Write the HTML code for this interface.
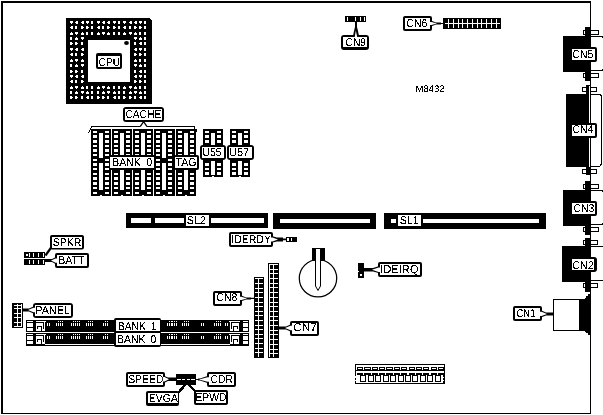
<!DOCTYPE html>
<html lang="en">
<head>
<meta charset="utf-8">
<title>M8432 motherboard layout</title>
<style>
html,body{margin:0;padding:0;background:#fff;}
body{width:603px;height:415px;overflow:hidden;}
svg{display:block;}
svg text{font-family:"Liberation Sans",sans-serif;fill:#000;}
</style>
</head>
<body>
<svg width="603" height="415" viewBox="0 0 603 415" shape-rendering="crispEdges" text-rendering="geometricPrecision">
<defs><filter id="bw" x="-5%" y="-20%" width="110%" height="140%" color-interpolation-filters="sRGB"><feComponentTransfer><feFuncA type="discrete" tableValues="0 0 1 1 1"/></feComponentTransfer></filter></defs>
<rect x="0" y="0" width="603" height="415" fill="#fff"/>
<rect x="1" y="1" width="590" height="2" fill="#000"/>
<rect x="1" y="1" width="2" height="413" fill="#000"/>
<rect x="1" y="413" width="590" height="1" fill="#000"/>
<rect x="590" y="1" width="1" height="413" fill="#000"/>
<polygon points="66,18 149,18 152,21 152,104 66,104" fill="#000"/>
<rect x="70" y="21" width="3" height="2" fill="#fff"/>
<rect x="71" y="23" width="1" height="1" fill="#fff"/>
<rect x="76" y="21" width="2" height="3" fill="#fff"/>
<rect x="75" y="22" width="1" height="1" fill="#fff"/>
<rect x="82" y="21" width="2" height="3" fill="#fff"/>
<rect x="81" y="22" width="1" height="1" fill="#fff"/>
<rect x="86" y="21" width="3" height="2" fill="#fff"/>
<rect x="87" y="23" width="1" height="1" fill="#fff"/>
<rect x="91" y="21" width="2" height="3" fill="#fff"/>
<rect x="97" y="21" width="3" height="2" fill="#fff"/>
<rect x="98" y="23" width="1" height="1" fill="#fff"/>
<rect x="103" y="21" width="2" height="3" fill="#fff"/>
<rect x="102" y="22" width="1" height="1" fill="#fff"/>
<rect x="108" y="21" width="2" height="3" fill="#fff"/>
<rect x="107" y="22" width="1" height="1" fill="#fff"/>
<rect x="113" y="21" width="3" height="2" fill="#fff"/>
<rect x="114" y="23" width="1" height="1" fill="#fff"/>
<rect x="118" y="21" width="2" height="3" fill="#fff"/>
<rect x="123" y="21" width="3" height="2" fill="#fff"/>
<rect x="124" y="23" width="1" height="1" fill="#fff"/>
<rect x="130" y="21" width="2" height="3" fill="#fff"/>
<rect x="129" y="22" width="1" height="1" fill="#fff"/>
<rect x="135" y="21" width="2" height="3" fill="#fff"/>
<rect x="134" y="22" width="1" height="1" fill="#fff"/>
<rect x="139" y="21" width="3" height="2" fill="#fff"/>
<rect x="140" y="23" width="1" height="1" fill="#fff"/>
<rect x="144" y="21" width="2" height="3" fill="#fff"/>
<rect x="71" y="26" width="2" height="3" fill="#fff"/>
<rect x="70" y="27" width="1" height="1" fill="#fff"/>
<rect x="75" y="26" width="2" height="3" fill="#fff"/>
<rect x="81" y="26" width="2" height="3" fill="#fff"/>
<rect x="83" y="27" width="1" height="1" fill="#fff"/>
<rect x="86" y="26" width="2" height="3" fill="#fff"/>
<rect x="88" y="27" width="1" height="1" fill="#fff"/>
<rect x="91" y="26" width="2" height="3" fill="#fff"/>
<rect x="98" y="26" width="2" height="3" fill="#fff"/>
<rect x="97" y="27" width="1" height="1" fill="#fff"/>
<rect x="102" y="26" width="2" height="3" fill="#fff"/>
<rect x="107" y="26" width="2" height="3" fill="#fff"/>
<rect x="109" y="27" width="1" height="1" fill="#fff"/>
<rect x="113" y="26" width="2" height="3" fill="#fff"/>
<rect x="115" y="27" width="1" height="1" fill="#fff"/>
<rect x="118" y="26" width="2" height="3" fill="#fff"/>
<rect x="124" y="26" width="2" height="3" fill="#fff"/>
<rect x="123" y="27" width="1" height="1" fill="#fff"/>
<rect x="129" y="26" width="2" height="3" fill="#fff"/>
<rect x="134" y="26" width="2" height="3" fill="#fff"/>
<rect x="136" y="27" width="1" height="1" fill="#fff"/>
<rect x="139" y="26" width="2" height="3" fill="#fff"/>
<rect x="141" y="27" width="1" height="1" fill="#fff"/>
<rect x="144" y="26" width="2" height="3" fill="#fff"/>
<rect x="70" y="33" width="3" height="2" fill="#fff"/>
<rect x="71" y="32" width="1" height="1" fill="#fff"/>
<rect x="75" y="32" width="3" height="2" fill="#fff"/>
<rect x="76" y="34" width="1" height="1" fill="#fff"/>
<rect x="81" y="33" width="3" height="2" fill="#fff"/>
<rect x="82" y="32" width="1" height="1" fill="#fff"/>
<rect x="86" y="32" width="2" height="3" fill="#fff"/>
<rect x="91" y="32" width="2" height="3" fill="#fff"/>
<rect x="97" y="33" width="3" height="2" fill="#fff"/>
<rect x="98" y="32" width="1" height="1" fill="#fff"/>
<rect x="102" y="32" width="3" height="2" fill="#fff"/>
<rect x="103" y="34" width="1" height="1" fill="#fff"/>
<rect x="107" y="33" width="3" height="2" fill="#fff"/>
<rect x="108" y="32" width="1" height="1" fill="#fff"/>
<rect x="113" y="32" width="2" height="3" fill="#fff"/>
<rect x="118" y="32" width="2" height="3" fill="#fff"/>
<rect x="123" y="33" width="3" height="2" fill="#fff"/>
<rect x="124" y="32" width="1" height="1" fill="#fff"/>
<rect x="129" y="32" width="3" height="2" fill="#fff"/>
<rect x="130" y="34" width="1" height="1" fill="#fff"/>
<rect x="134" y="33" width="3" height="2" fill="#fff"/>
<rect x="135" y="32" width="1" height="1" fill="#fff"/>
<rect x="139" y="32" width="2" height="3" fill="#fff"/>
<rect x="144" y="32" width="2" height="3" fill="#fff"/>
<rect x="70" y="37" width="2" height="3" fill="#fff"/>
<rect x="75" y="38" width="3" height="2" fill="#fff"/>
<rect x="76" y="37" width="1" height="1" fill="#fff"/>
<rect x="81" y="37" width="3" height="2" fill="#fff"/>
<rect x="82" y="39" width="1" height="1" fill="#fff"/>
<rect x="134" y="37" width="3" height="2" fill="#fff"/>
<rect x="135" y="39" width="1" height="1" fill="#fff"/>
<rect x="139" y="38" width="3" height="2" fill="#fff"/>
<rect x="140" y="37" width="1" height="1" fill="#fff"/>
<rect x="144" y="37" width="2" height="3" fill="#fff"/>
<rect x="70" y="42" width="2" height="3" fill="#fff"/>
<rect x="72" y="43" width="1" height="1" fill="#fff"/>
<rect x="75" y="42" width="2" height="3" fill="#fff"/>
<rect x="77" y="43" width="1" height="1" fill="#fff"/>
<rect x="81" y="42" width="2" height="3" fill="#fff"/>
<rect x="134" y="42" width="2" height="3" fill="#fff"/>
<rect x="140" y="42" width="2" height="3" fill="#fff"/>
<rect x="139" y="43" width="1" height="1" fill="#fff"/>
<rect x="144" y="42" width="2" height="3" fill="#fff"/>
<rect x="70" y="48" width="3" height="2" fill="#fff"/>
<rect x="71" y="50" width="1" height="1" fill="#fff"/>
<rect x="76" y="48" width="2" height="3" fill="#fff"/>
<rect x="75" y="49" width="1" height="1" fill="#fff"/>
<rect x="82" y="48" width="2" height="3" fill="#fff"/>
<rect x="81" y="49" width="1" height="1" fill="#fff"/>
<rect x="135" y="48" width="2" height="3" fill="#fff"/>
<rect x="134" y="49" width="1" height="1" fill="#fff"/>
<rect x="139" y="48" width="3" height="2" fill="#fff"/>
<rect x="140" y="50" width="1" height="1" fill="#fff"/>
<rect x="144" y="48" width="2" height="3" fill="#fff"/>
<rect x="71" y="53" width="2" height="3" fill="#fff"/>
<rect x="70" y="54" width="1" height="1" fill="#fff"/>
<rect x="75" y="53" width="2" height="3" fill="#fff"/>
<rect x="81" y="53" width="2" height="3" fill="#fff"/>
<rect x="83" y="54" width="1" height="1" fill="#fff"/>
<rect x="134" y="53" width="2" height="3" fill="#fff"/>
<rect x="136" y="54" width="1" height="1" fill="#fff"/>
<rect x="139" y="53" width="2" height="3" fill="#fff"/>
<rect x="141" y="54" width="1" height="1" fill="#fff"/>
<rect x="144" y="53" width="2" height="3" fill="#fff"/>
<rect x="70" y="60" width="3" height="2" fill="#fff"/>
<rect x="71" y="59" width="1" height="1" fill="#fff"/>
<rect x="75" y="59" width="3" height="2" fill="#fff"/>
<rect x="76" y="61" width="1" height="1" fill="#fff"/>
<rect x="81" y="60" width="3" height="2" fill="#fff"/>
<rect x="82" y="59" width="1" height="1" fill="#fff"/>
<rect x="134" y="60" width="3" height="2" fill="#fff"/>
<rect x="135" y="59" width="1" height="1" fill="#fff"/>
<rect x="139" y="59" width="2" height="3" fill="#fff"/>
<rect x="144" y="59" width="2" height="3" fill="#fff"/>
<rect x="70" y="64" width="2" height="3" fill="#fff"/>
<rect x="75" y="65" width="3" height="2" fill="#fff"/>
<rect x="76" y="64" width="1" height="1" fill="#fff"/>
<rect x="81" y="64" width="3" height="2" fill="#fff"/>
<rect x="82" y="66" width="1" height="1" fill="#fff"/>
<rect x="134" y="64" width="3" height="2" fill="#fff"/>
<rect x="135" y="66" width="1" height="1" fill="#fff"/>
<rect x="139" y="65" width="3" height="2" fill="#fff"/>
<rect x="140" y="64" width="1" height="1" fill="#fff"/>
<rect x="144" y="64" width="2" height="3" fill="#fff"/>
<rect x="70" y="70" width="2" height="3" fill="#fff"/>
<rect x="72" y="71" width="1" height="1" fill="#fff"/>
<rect x="75" y="70" width="2" height="3" fill="#fff"/>
<rect x="77" y="71" width="1" height="1" fill="#fff"/>
<rect x="81" y="70" width="2" height="3" fill="#fff"/>
<rect x="134" y="70" width="2" height="3" fill="#fff"/>
<rect x="140" y="70" width="2" height="3" fill="#fff"/>
<rect x="139" y="71" width="1" height="1" fill="#fff"/>
<rect x="144" y="70" width="2" height="3" fill="#fff"/>
<rect x="70" y="75" width="3" height="2" fill="#fff"/>
<rect x="71" y="77" width="1" height="1" fill="#fff"/>
<rect x="76" y="75" width="2" height="3" fill="#fff"/>
<rect x="75" y="76" width="1" height="1" fill="#fff"/>
<rect x="82" y="75" width="2" height="3" fill="#fff"/>
<rect x="81" y="76" width="1" height="1" fill="#fff"/>
<rect x="135" y="75" width="2" height="3" fill="#fff"/>
<rect x="134" y="76" width="1" height="1" fill="#fff"/>
<rect x="139" y="75" width="3" height="2" fill="#fff"/>
<rect x="140" y="77" width="1" height="1" fill="#fff"/>
<rect x="144" y="75" width="2" height="3" fill="#fff"/>
<rect x="71" y="80" width="2" height="3" fill="#fff"/>
<rect x="70" y="81" width="1" height="1" fill="#fff"/>
<rect x="75" y="80" width="2" height="3" fill="#fff"/>
<rect x="81" y="80" width="2" height="3" fill="#fff"/>
<rect x="83" y="81" width="1" height="1" fill="#fff"/>
<rect x="134" y="80" width="2" height="3" fill="#fff"/>
<rect x="136" y="81" width="1" height="1" fill="#fff"/>
<rect x="139" y="80" width="2" height="3" fill="#fff"/>
<rect x="141" y="81" width="1" height="1" fill="#fff"/>
<rect x="144" y="80" width="2" height="3" fill="#fff"/>
<rect x="70" y="87" width="3" height="2" fill="#fff"/>
<rect x="71" y="86" width="1" height="1" fill="#fff"/>
<rect x="75" y="86" width="3" height="2" fill="#fff"/>
<rect x="76" y="88" width="1" height="1" fill="#fff"/>
<rect x="81" y="87" width="3" height="2" fill="#fff"/>
<rect x="82" y="86" width="1" height="1" fill="#fff"/>
<rect x="86" y="86" width="2" height="3" fill="#fff"/>
<rect x="91" y="86" width="2" height="3" fill="#fff"/>
<rect x="97" y="87" width="3" height="2" fill="#fff"/>
<rect x="98" y="86" width="1" height="1" fill="#fff"/>
<rect x="102" y="86" width="3" height="2" fill="#fff"/>
<rect x="103" y="88" width="1" height="1" fill="#fff"/>
<rect x="107" y="87" width="3" height="2" fill="#fff"/>
<rect x="108" y="86" width="1" height="1" fill="#fff"/>
<rect x="113" y="86" width="2" height="3" fill="#fff"/>
<rect x="118" y="86" width="2" height="3" fill="#fff"/>
<rect x="123" y="87" width="3" height="2" fill="#fff"/>
<rect x="124" y="86" width="1" height="1" fill="#fff"/>
<rect x="129" y="86" width="3" height="2" fill="#fff"/>
<rect x="130" y="88" width="1" height="1" fill="#fff"/>
<rect x="134" y="87" width="3" height="2" fill="#fff"/>
<rect x="135" y="86" width="1" height="1" fill="#fff"/>
<rect x="139" y="86" width="2" height="3" fill="#fff"/>
<rect x="144" y="86" width="2" height="3" fill="#fff"/>
<rect x="70" y="91" width="2" height="3" fill="#fff"/>
<rect x="75" y="92" width="3" height="2" fill="#fff"/>
<rect x="76" y="91" width="1" height="1" fill="#fff"/>
<rect x="81" y="91" width="3" height="2" fill="#fff"/>
<rect x="82" y="93" width="1" height="1" fill="#fff"/>
<rect x="86" y="92" width="3" height="2" fill="#fff"/>
<rect x="87" y="91" width="1" height="1" fill="#fff"/>
<rect x="91" y="91" width="2" height="3" fill="#fff"/>
<rect x="97" y="91" width="2" height="3" fill="#fff"/>
<rect x="102" y="92" width="3" height="2" fill="#fff"/>
<rect x="103" y="91" width="1" height="1" fill="#fff"/>
<rect x="107" y="91" width="3" height="2" fill="#fff"/>
<rect x="108" y="93" width="1" height="1" fill="#fff"/>
<rect x="113" y="92" width="3" height="2" fill="#fff"/>
<rect x="114" y="91" width="1" height="1" fill="#fff"/>
<rect x="118" y="91" width="2" height="3" fill="#fff"/>
<rect x="123" y="91" width="2" height="3" fill="#fff"/>
<rect x="129" y="92" width="3" height="2" fill="#fff"/>
<rect x="130" y="91" width="1" height="1" fill="#fff"/>
<rect x="134" y="91" width="3" height="2" fill="#fff"/>
<rect x="135" y="93" width="1" height="1" fill="#fff"/>
<rect x="139" y="92" width="3" height="2" fill="#fff"/>
<rect x="140" y="91" width="1" height="1" fill="#fff"/>
<rect x="144" y="91" width="2" height="3" fill="#fff"/>
<rect x="70" y="96" width="2" height="3" fill="#fff"/>
<rect x="72" y="97" width="1" height="1" fill="#fff"/>
<rect x="75" y="96" width="2" height="3" fill="#fff"/>
<rect x="77" y="97" width="1" height="1" fill="#fff"/>
<rect x="81" y="96" width="2" height="3" fill="#fff"/>
<rect x="87" y="96" width="2" height="3" fill="#fff"/>
<rect x="86" y="97" width="1" height="1" fill="#fff"/>
<rect x="91" y="96" width="2" height="3" fill="#fff"/>
<rect x="97" y="96" width="2" height="3" fill="#fff"/>
<rect x="99" y="97" width="1" height="1" fill="#fff"/>
<rect x="102" y="96" width="2" height="3" fill="#fff"/>
<rect x="104" y="97" width="1" height="1" fill="#fff"/>
<rect x="107" y="96" width="2" height="3" fill="#fff"/>
<rect x="114" y="96" width="2" height="3" fill="#fff"/>
<rect x="113" y="97" width="1" height="1" fill="#fff"/>
<rect x="118" y="96" width="2" height="3" fill="#fff"/>
<rect x="123" y="96" width="2" height="3" fill="#fff"/>
<rect x="125" y="97" width="1" height="1" fill="#fff"/>
<rect x="129" y="96" width="2" height="3" fill="#fff"/>
<rect x="131" y="97" width="1" height="1" fill="#fff"/>
<rect x="134" y="96" width="2" height="3" fill="#fff"/>
<rect x="140" y="96" width="2" height="3" fill="#fff"/>
<rect x="139" y="97" width="1" height="1" fill="#fff"/>
<rect x="144" y="96" width="2" height="3" fill="#fff"/>
<rect x="88" y="40" width="42" height="42" fill="#fff"/>
<ellipse cx="126.5" cy="43" rx="2.4" ry="2" fill="#000" shape-rendering="geometricPrecision"/>
<rect x="96" y="53" width="26" height="16" rx="2" ry="2" fill="#000" shape-rendering="geometricPrecision"/>
<rect x="98" y="56" width="22" height="11" fill="#fff"/>
<text x="98.525" y="66" font-size="11.3" textLength="21.625" lengthAdjust="spacingAndGlyphs" filter="url(#bw)">CPU</text>
<rect x="91" y="126" width="49" height="1" fill="#000"/>
<rect x="147" y="126" width="48" height="1" fill="#000"/>
<rect x="91" y="127" width="1" height="1" fill="#000"/>
<rect x="90" y="128" width="1" height="2" fill="#000"/>
<rect x="89" y="130" width="1" height="2" fill="#000"/>
<rect x="88" y="132" width="1" height="1" fill="#000"/>
<rect x="194" y="127" width="1" height="2" fill="#000"/>
<rect x="195" y="129" width="2" height="3" fill="#000"/>
<polyline points="140.2,126.6 143.6,121.6 147,126.6" fill="none" stroke="#000" stroke-width="1.3" shape-rendering="geometricPrecision"/>
<rect x="91" y="129" width="20" height="67" fill="#000"/>
<rect x="93" y="131" width="4" height="2" fill="#fff"/>
<rect x="105" y="131" width="4" height="2" fill="#fff"/>
<rect x="93" y="135" width="4" height="3" fill="#fff"/>
<rect x="105" y="135" width="4" height="3" fill="#fff"/>
<rect x="93" y="140" width="4" height="3" fill="#fff"/>
<rect x="105" y="140" width="4" height="3" fill="#fff"/>
<rect x="93" y="145" width="4" height="2" fill="#fff"/>
<rect x="105" y="145" width="4" height="2" fill="#fff"/>
<rect x="93" y="149" width="4" height="3" fill="#fff"/>
<rect x="105" y="149" width="4" height="3" fill="#fff"/>
<rect x="93" y="154" width="4" height="2" fill="#fff"/>
<rect x="105" y="154" width="4" height="2" fill="#fff"/>
<rect x="93" y="159" width="4" height="2" fill="#fff"/>
<rect x="105" y="159" width="4" height="2" fill="#fff"/>
<rect x="93" y="163" width="4" height="3" fill="#fff"/>
<rect x="105" y="163" width="4" height="3" fill="#fff"/>
<rect x="93" y="168" width="4" height="2" fill="#fff"/>
<rect x="105" y="168" width="4" height="2" fill="#fff"/>
<rect x="93" y="173" width="4" height="2" fill="#fff"/>
<rect x="105" y="173" width="4" height="2" fill="#fff"/>
<rect x="93" y="177" width="4" height="3" fill="#fff"/>
<rect x="105" y="177" width="4" height="3" fill="#fff"/>
<rect x="93" y="182" width="4" height="3" fill="#fff"/>
<rect x="105" y="182" width="4" height="3" fill="#fff"/>
<rect x="93" y="187" width="4" height="2" fill="#fff"/>
<rect x="105" y="187" width="4" height="2" fill="#fff"/>
<rect x="93" y="192" width="4" height="2" fill="#fff"/>
<rect x="105" y="192" width="4" height="2" fill="#fff"/>
<rect x="99" y="133" width="4" height="25" fill="#fff"/>
<rect x="99" y="163" width="4" height="27" fill="#fff"/>
<polygon points="99.5,196 101,194 102.5,196" fill="#fff"/>
<rect x="112" y="129" width="20" height="67" fill="#000"/>
<rect x="114" y="131" width="4" height="2" fill="#fff"/>
<rect x="126" y="131" width="4" height="2" fill="#fff"/>
<rect x="114" y="135" width="4" height="3" fill="#fff"/>
<rect x="126" y="135" width="4" height="3" fill="#fff"/>
<rect x="114" y="140" width="4" height="3" fill="#fff"/>
<rect x="126" y="140" width="4" height="3" fill="#fff"/>
<rect x="114" y="145" width="4" height="2" fill="#fff"/>
<rect x="126" y="145" width="4" height="2" fill="#fff"/>
<rect x="114" y="149" width="4" height="3" fill="#fff"/>
<rect x="126" y="149" width="4" height="3" fill="#fff"/>
<rect x="114" y="154" width="4" height="2" fill="#fff"/>
<rect x="126" y="154" width="4" height="2" fill="#fff"/>
<rect x="114" y="159" width="4" height="2" fill="#fff"/>
<rect x="126" y="159" width="4" height="2" fill="#fff"/>
<rect x="114" y="163" width="4" height="3" fill="#fff"/>
<rect x="126" y="163" width="4" height="3" fill="#fff"/>
<rect x="114" y="168" width="4" height="2" fill="#fff"/>
<rect x="126" y="168" width="4" height="2" fill="#fff"/>
<rect x="114" y="173" width="4" height="2" fill="#fff"/>
<rect x="126" y="173" width="4" height="2" fill="#fff"/>
<rect x="114" y="177" width="4" height="3" fill="#fff"/>
<rect x="126" y="177" width="4" height="3" fill="#fff"/>
<rect x="114" y="182" width="4" height="3" fill="#fff"/>
<rect x="126" y="182" width="4" height="3" fill="#fff"/>
<rect x="114" y="187" width="4" height="2" fill="#fff"/>
<rect x="126" y="187" width="4" height="2" fill="#fff"/>
<rect x="114" y="192" width="4" height="2" fill="#fff"/>
<rect x="126" y="192" width="4" height="2" fill="#fff"/>
<rect x="120" y="133" width="4" height="25" fill="#fff"/>
<rect x="120" y="163" width="4" height="27" fill="#fff"/>
<polygon points="120.5,196 122,194 123.5,196" fill="#fff"/>
<rect x="133" y="129" width="20" height="67" fill="#000"/>
<rect x="135" y="131" width="4" height="2" fill="#fff"/>
<rect x="147" y="131" width="4" height="2" fill="#fff"/>
<rect x="135" y="135" width="4" height="3" fill="#fff"/>
<rect x="147" y="135" width="4" height="3" fill="#fff"/>
<rect x="135" y="140" width="4" height="3" fill="#fff"/>
<rect x="147" y="140" width="4" height="3" fill="#fff"/>
<rect x="135" y="145" width="4" height="2" fill="#fff"/>
<rect x="147" y="145" width="4" height="2" fill="#fff"/>
<rect x="135" y="149" width="4" height="3" fill="#fff"/>
<rect x="147" y="149" width="4" height="3" fill="#fff"/>
<rect x="135" y="154" width="4" height="2" fill="#fff"/>
<rect x="147" y="154" width="4" height="2" fill="#fff"/>
<rect x="135" y="159" width="4" height="2" fill="#fff"/>
<rect x="147" y="159" width="4" height="2" fill="#fff"/>
<rect x="135" y="163" width="4" height="3" fill="#fff"/>
<rect x="147" y="163" width="4" height="3" fill="#fff"/>
<rect x="135" y="168" width="4" height="2" fill="#fff"/>
<rect x="147" y="168" width="4" height="2" fill="#fff"/>
<rect x="135" y="173" width="4" height="2" fill="#fff"/>
<rect x="147" y="173" width="4" height="2" fill="#fff"/>
<rect x="135" y="177" width="4" height="3" fill="#fff"/>
<rect x="147" y="177" width="4" height="3" fill="#fff"/>
<rect x="135" y="182" width="4" height="3" fill="#fff"/>
<rect x="147" y="182" width="4" height="3" fill="#fff"/>
<rect x="135" y="187" width="4" height="2" fill="#fff"/>
<rect x="147" y="187" width="4" height="2" fill="#fff"/>
<rect x="135" y="192" width="4" height="2" fill="#fff"/>
<rect x="147" y="192" width="4" height="2" fill="#fff"/>
<rect x="141" y="133" width="4" height="25" fill="#fff"/>
<rect x="141" y="163" width="4" height="27" fill="#fff"/>
<polygon points="141.5,196 143,194 144.5,196" fill="#fff"/>
<rect x="154" y="129" width="21" height="67" fill="#000"/>
<rect x="156" y="131" width="4" height="2" fill="#fff"/>
<rect x="168" y="131" width="4" height="2" fill="#fff"/>
<rect x="156" y="135" width="4" height="3" fill="#fff"/>
<rect x="168" y="135" width="4" height="3" fill="#fff"/>
<rect x="156" y="140" width="4" height="3" fill="#fff"/>
<rect x="168" y="140" width="4" height="3" fill="#fff"/>
<rect x="156" y="145" width="4" height="2" fill="#fff"/>
<rect x="168" y="145" width="4" height="2" fill="#fff"/>
<rect x="156" y="149" width="4" height="3" fill="#fff"/>
<rect x="168" y="149" width="4" height="3" fill="#fff"/>
<rect x="156" y="154" width="4" height="2" fill="#fff"/>
<rect x="168" y="154" width="4" height="2" fill="#fff"/>
<rect x="156" y="159" width="4" height="2" fill="#fff"/>
<rect x="168" y="159" width="4" height="2" fill="#fff"/>
<rect x="156" y="163" width="4" height="3" fill="#fff"/>
<rect x="168" y="163" width="4" height="3" fill="#fff"/>
<rect x="156" y="168" width="4" height="2" fill="#fff"/>
<rect x="168" y="168" width="4" height="2" fill="#fff"/>
<rect x="156" y="173" width="4" height="2" fill="#fff"/>
<rect x="168" y="173" width="4" height="2" fill="#fff"/>
<rect x="156" y="177" width="4" height="3" fill="#fff"/>
<rect x="168" y="177" width="4" height="3" fill="#fff"/>
<rect x="156" y="182" width="4" height="3" fill="#fff"/>
<rect x="168" y="182" width="4" height="3" fill="#fff"/>
<rect x="156" y="187" width="4" height="2" fill="#fff"/>
<rect x="168" y="187" width="4" height="2" fill="#fff"/>
<rect x="156" y="192" width="4" height="2" fill="#fff"/>
<rect x="168" y="192" width="4" height="2" fill="#fff"/>
<rect x="162" y="133" width="4" height="25" fill="#fff"/>
<rect x="162" y="163" width="4" height="27" fill="#fff"/>
<polygon points="162.5,196 164,194 165.5,196" fill="#fff"/>
<rect x="176" y="129" width="20" height="67" fill="#000"/>
<rect x="178" y="131" width="4" height="2" fill="#fff"/>
<rect x="190" y="131" width="4" height="2" fill="#fff"/>
<rect x="178" y="135" width="4" height="3" fill="#fff"/>
<rect x="190" y="135" width="4" height="3" fill="#fff"/>
<rect x="178" y="140" width="4" height="3" fill="#fff"/>
<rect x="190" y="140" width="4" height="3" fill="#fff"/>
<rect x="178" y="145" width="4" height="2" fill="#fff"/>
<rect x="190" y="145" width="4" height="2" fill="#fff"/>
<rect x="178" y="149" width="4" height="3" fill="#fff"/>
<rect x="190" y="149" width="4" height="3" fill="#fff"/>
<rect x="178" y="154" width="4" height="2" fill="#fff"/>
<rect x="190" y="154" width="4" height="2" fill="#fff"/>
<rect x="178" y="159" width="4" height="2" fill="#fff"/>
<rect x="190" y="159" width="4" height="2" fill="#fff"/>
<rect x="178" y="163" width="4" height="3" fill="#fff"/>
<rect x="190" y="163" width="4" height="3" fill="#fff"/>
<rect x="178" y="168" width="4" height="2" fill="#fff"/>
<rect x="190" y="168" width="4" height="2" fill="#fff"/>
<rect x="178" y="173" width="4" height="2" fill="#fff"/>
<rect x="190" y="173" width="4" height="2" fill="#fff"/>
<rect x="178" y="177" width="4" height="3" fill="#fff"/>
<rect x="190" y="177" width="4" height="3" fill="#fff"/>
<rect x="178" y="182" width="4" height="3" fill="#fff"/>
<rect x="190" y="182" width="4" height="3" fill="#fff"/>
<rect x="178" y="187" width="4" height="2" fill="#fff"/>
<rect x="190" y="187" width="4" height="2" fill="#fff"/>
<rect x="178" y="192" width="4" height="2" fill="#fff"/>
<rect x="190" y="192" width="4" height="2" fill="#fff"/>
<rect x="184" y="133" width="4" height="25" fill="#fff"/>
<rect x="184" y="163" width="4" height="27" fill="#fff"/>
<polygon points="184.5,196 186,194 187.5,196" fill="#fff"/>
<rect x="203" y="129" width="20" height="48" fill="#000"/>
<rect x="205" y="131" width="4" height="2" fill="#fff"/>
<rect x="217" y="131" width="4" height="2" fill="#fff"/>
<rect x="205" y="135" width="4" height="3" fill="#fff"/>
<rect x="217" y="135" width="4" height="3" fill="#fff"/>
<rect x="205" y="140" width="4" height="3" fill="#fff"/>
<rect x="217" y="140" width="4" height="3" fill="#fff"/>
<rect x="205" y="163" width="4" height="3" fill="#fff"/>
<rect x="217" y="163" width="4" height="3" fill="#fff"/>
<rect x="205" y="168" width="4" height="2" fill="#fff"/>
<rect x="217" y="168" width="4" height="2" fill="#fff"/>
<rect x="205" y="172" width="4" height="3" fill="#fff"/>
<rect x="217" y="172" width="4" height="3" fill="#fff"/>
<rect x="211" y="133" width="4" height="17" fill="#fff"/>
<rect x="211" y="161" width="4" height="14" fill="#fff"/>
<polygon points="211.5,177 213,175 214.5,177" fill="#fff"/>
<rect x="230" y="129" width="20" height="48" fill="#000"/>
<rect x="232" y="131" width="4" height="2" fill="#fff"/>
<rect x="244" y="131" width="4" height="2" fill="#fff"/>
<rect x="232" y="135" width="4" height="3" fill="#fff"/>
<rect x="244" y="135" width="4" height="3" fill="#fff"/>
<rect x="232" y="140" width="4" height="3" fill="#fff"/>
<rect x="244" y="140" width="4" height="3" fill="#fff"/>
<rect x="232" y="163" width="4" height="3" fill="#fff"/>
<rect x="244" y="163" width="4" height="3" fill="#fff"/>
<rect x="232" y="168" width="4" height="2" fill="#fff"/>
<rect x="244" y="168" width="4" height="2" fill="#fff"/>
<rect x="232" y="172" width="4" height="3" fill="#fff"/>
<rect x="244" y="172" width="4" height="3" fill="#fff"/>
<rect x="238" y="133" width="4" height="17" fill="#fff"/>
<rect x="238" y="161" width="4" height="14" fill="#fff"/>
<polygon points="238.5,177 240,175 241.5,177" fill="#fff"/>
<rect x="123" y="107" width="41" height="15" rx="3" ry="3" fill="#000" shape-rendering="geometricPrecision"/>
<rect x="125" y="109" width="37" height="11" fill="#fff"/>
<text x="125.4" y="118" font-size="11.3" textLength="35.825" lengthAdjust="spacingAndGlyphs" filter="url(#bw)">CACHE</text>
<rect x="109" y="155" width="46" height="15" rx="1" ry="1" fill="#000" shape-rendering="geometricPrecision"/>
<rect x="110" y="157" width="44" height="11" fill="#fff"/>
<text x="112.1" y="166" font-size="11.3" word-spacing="2.5" textLength="39.975" lengthAdjust="spacingAndGlyphs" filter="url(#bw)">BANK 0</text>
<rect x="174" y="155" width="25" height="15" rx="2" ry="2" fill="#000" shape-rendering="geometricPrecision"/>
<rect x="175" y="157" width="22" height="11" fill="#fff"/>
<text x="175.525" y="166" font-size="11.3" textLength="21" lengthAdjust="spacingAndGlyphs" filter="url(#bw)">TAG</text>
<rect x="200" y="145" width="26" height="15" rx="3" ry="3" fill="#000" shape-rendering="geometricPrecision"/>
<rect x="202" y="147" width="22" height="11" fill="#fff"/>
<text x="202.575" y="156" font-size="11.3" textLength="18.775" lengthAdjust="spacingAndGlyphs" filter="url(#bw)">U55</text>
<rect x="227" y="145" width="27" height="15" rx="3" ry="3" fill="#000" shape-rendering="geometricPrecision"/>
<rect x="229" y="147" width="23" height="11" fill="#fff"/>
<text x="229.075" y="156" font-size="11.3" textLength="20.1" lengthAdjust="spacingAndGlyphs" filter="url(#bw)">U57</text>
<rect x="345" y="16" width="21" height="6" fill="#000"/>
<rect x="347" y="17" width="1" height="4" fill="#fff"/>
<rect x="355" y="17" width="1" height="4" fill="#fff"/>
<rect x="360" y="17" width="1" height="4" fill="#fff"/>
<rect x="364" y="17" width="1" height="4" fill="#fff"/>
<polygon points="355,22 357,22 357,27 358,31 359,36 353,36 354,31 355,27" fill="#000" shape-rendering="geometricPrecision"/>
<rect x="341" y="35" width="28" height="15" rx="3" ry="3" fill="#000" shape-rendering="geometricPrecision"/>
<rect x="343" y="37" width="24" height="10" fill="#fff"/>
<text x="345.575" y="46" font-size="11.3" textLength="20.325" lengthAdjust="spacingAndGlyphs" filter="url(#bw)">CN9</text>
<polygon points="354.7,37.5 355.8,30.5 357.3,37.5" fill="#fff" shape-rendering="geometricPrecision"/>
<rect x="443" y="18" width="58" height="11" fill="#000"/>
<rect x="445" y="23" width="55" height="1" fill="#fff"/>
<rect x="448" y="19" width="1" height="9" fill="#fff"/>
<rect x="453" y="19" width="1" height="9" fill="#fff"/>
<rect x="458" y="19" width="1" height="9" fill="#fff"/>
<rect x="462" y="19" width="1" height="9" fill="#fff"/>
<rect x="467" y="19" width="1" height="9" fill="#fff"/>
<rect x="472" y="19" width="1" height="9" fill="#fff"/>
<rect x="477" y="19" width="1" height="9" fill="#fff"/>
<rect x="481" y="19" width="1" height="9" fill="#fff"/>
<rect x="486" y="19" width="1" height="9" fill="#fff"/>
<rect x="491" y="19" width="1" height="9" fill="#fff"/>
<rect x="496" y="19" width="1" height="9" fill="#fff"/>
<polygon points="431.5,20.7 436,22.5 441,22.5 441,22.9 443.5,22.9 443.5,24.1 441,24.1 441,24.5 436,24.5 431.5,26.3" fill="#000" shape-rendering="geometricPrecision"/>
<rect x="403" y="16" width="29" height="15" rx="2" ry="2" fill="#000" shape-rendering="geometricPrecision"/>
<rect x="405" y="18" width="25" height="10.5" fill="#fff"/>
<text x="406.275" y="27" font-size="11.3" textLength="21.225" lengthAdjust="spacingAndGlyphs" filter="url(#bw)">CN6</text>
<polygon points="429.8,21.9 431.5,21.9 437,23.5 431.5,25.1 429.8,25.1" fill="#fff" shape-rendering="geometricPrecision"/>
<rect x="583" y="30" width="16" height="5" fill="#000"/>
<rect x="584" y="31" width="14" height="3" fill="#fff"/>
<rect x="585" y="27" width="6" height="9" fill="#000"/>
<rect x="563" y="36" width="28" height="36" fill="#000"/>
<rect x="591" y="36" width="12" height="1" fill="#000"/>
<rect x="602" y="37" width="1" height="1" fill="#000"/>
<rect x="591" y="70" width="12" height="1" fill="#000"/>
<rect x="602" y="69" width="1" height="1" fill="#000"/>
<rect x="583" y="73" width="16" height="5" fill="#000"/>
<rect x="584" y="74" width="14" height="3" fill="#fff"/>
<rect x="585" y="72" width="6" height="9" fill="#000"/>
<rect x="570" y="47" width="27" height="15" rx="2" ry="2" fill="#000" shape-rendering="geometricPrecision"/>
<rect x="572" y="49" width="23" height="11" fill="#fff"/>
<text x="572.15" y="58" font-size="11.3" textLength="21.15" lengthAdjust="spacingAndGlyphs" filter="url(#bw)">CN5</text>
<rect x="582" y="87" width="15" height="5" fill="#000"/>
<rect x="583" y="88" width="13" height="3" fill="#fff"/>
<rect x="586" y="85" width="5" height="9" fill="#000"/>
<rect x="589" y="86" width="1" height="8" fill="#fff"/>
<rect x="566" y="94" width="23" height="73" fill="#000"/>
<rect x="591" y="94" width="10" height="1" fill="#000"/>
<rect x="600" y="95" width="1" height="1" fill="#000"/>
<rect x="601" y="95" width="1" height="70" fill="#000"/>
<rect x="600" y="164" width="1" height="2" fill="#000"/>
<rect x="591" y="166" width="9" height="1" fill="#000"/>
<rect x="590" y="94" width="1" height="73" fill="#000"/>
<rect x="582" y="169" width="15" height="5" fill="#000"/>
<rect x="583" y="170" width="13" height="3" fill="#fff"/>
<rect x="586" y="167" width="5" height="8" fill="#000"/>
<rect x="570" y="123" width="27" height="15" rx="2" ry="2" fill="#000" shape-rendering="geometricPrecision"/>
<rect x="572" y="125" width="23" height="11" fill="#fff"/>
<text x="572.45" y="133" font-size="11.3" textLength="20.775" lengthAdjust="spacingAndGlyphs" filter="url(#bw)">CN4</text>
<rect x="583" y="184" width="16" height="5" fill="#000"/>
<rect x="584" y="185" width="14" height="3" fill="#fff"/>
<rect x="585" y="181" width="6" height="9" fill="#000"/>
<rect x="563" y="190" width="28" height="36" fill="#000"/>
<rect x="591" y="190" width="12" height="1" fill="#000"/>
<rect x="602" y="191" width="1" height="1" fill="#000"/>
<rect x="591" y="224" width="12" height="1" fill="#000"/>
<rect x="602" y="223" width="1" height="1" fill="#000"/>
<rect x="583" y="227" width="16" height="5" fill="#000"/>
<rect x="584" y="228" width="14" height="3" fill="#fff"/>
<rect x="585" y="226" width="6" height="9" fill="#000"/>
<rect x="570" y="201" width="27" height="15" rx="2" ry="2" fill="#000" shape-rendering="geometricPrecision"/>
<rect x="572" y="203" width="23" height="11" fill="#fff"/>
<text x="573.525" y="212" font-size="11.3" textLength="20.775" lengthAdjust="spacingAndGlyphs" filter="url(#bw)">CN3</text>
<rect x="583" y="240" width="15" height="5" fill="#000"/>
<rect x="584" y="241" width="13" height="3" fill="#fff"/>
<rect x="585" y="238" width="6" height="8" fill="#000"/>
<rect x="562" y="246" width="29" height="36" fill="#000"/>
<rect x="590" y="246" width="13" height="1" fill="#000"/>
<rect x="590" y="280" width="13" height="1" fill="#000"/>
<rect x="583" y="283" width="15" height="5" fill="#000"/>
<rect x="584" y="284" width="13" height="3" fill="#fff"/>
<rect x="585" y="282" width="6" height="10" fill="#000"/>
<rect x="570" y="257" width="27" height="15" rx="3" ry="3" fill="#000" shape-rendering="geometricPrecision"/>
<rect x="572" y="259" width="22" height="11" fill="#fff"/>
<text x="572.275" y="269" font-size="11.3" textLength="21.65" lengthAdjust="spacingAndGlyphs" filter="url(#bw)">CN2</text>
<rect x="553" y="299" width="27" height="32" fill="#000"/>
<rect x="554" y="300" width="25" height="30" fill="#fff"/>
<rect x="579" y="299" width="12" height="32" fill="#000"/>
<rect x="588" y="294" width="3" height="2" fill="#000"/>
<rect x="586" y="296" width="5" height="2" fill="#000"/>
<rect x="585" y="298" width="6" height="1" fill="#000"/>
<rect x="585" y="331" width="6" height="1" fill="#000"/>
<rect x="586" y="332" width="5" height="1" fill="#000"/>
<rect x="588" y="333" width="3" height="2" fill="#000"/>
<polygon points="541.5,310.5 546,312.4 553,312.4 553,315.4 546,315.4 541.5,317.3" fill="#000" shape-rendering="geometricPrecision"/>
<rect x="513" y="306" width="29" height="15" rx="2" ry="2" fill="#000" shape-rendering="geometricPrecision"/>
<rect x="515" y="308" width="25" height="10.5" fill="#fff"/>
<text x="516.4" y="317" font-size="11.3" textLength="19.225" lengthAdjust="spacingAndGlyphs" filter="url(#bw)">CN1</text>
<polygon points="539.8,311.7 541.5,311.7 547,313.9 541.5,316.1 539.8,316.1" fill="#fff" shape-rendering="geometricPrecision"/>
<rect x="126" y="213" width="142" height="15" fill="#000"/>
<rect x="131" y="218" width="20" height="5" fill="#fff"/>
<rect x="155" y="218" width="29" height="5" fill="#fff"/>
<rect x="211" y="218" width="53" height="5" fill="#fff"/>
<rect x="186" y="215" width="23" height="11" rx="0" ry="0" fill="#000" shape-rendering="geometricPrecision"/>
<rect x="186" y="215" width="23" height="11" fill="#fff"/>
<text x="186.725" y="224" font-size="11.3" textLength="19.15" lengthAdjust="spacingAndGlyphs" filter="url(#bw)">SL2</text>
<rect x="273" y="213" width="103" height="16" fill="#000"/>
<rect x="280" y="219" width="90" height="4" fill="#fff"/>
<rect x="384" y="213" width="162" height="16" fill="#000"/>
<rect x="391" y="219" width="5" height="4" fill="#fff"/>
<rect x="423" y="219" width="116" height="4" fill="#fff"/>
<rect x="398" y="215" width="23" height="11" rx="0" ry="0" fill="#000" shape-rendering="geometricPrecision"/>
<rect x="398" y="215" width="23" height="11" fill="#fff"/>
<text x="399.7" y="224" font-size="11.3" textLength="19.1" lengthAdjust="spacingAndGlyphs" filter="url(#bw)">SL1</text>
<rect x="286" y="237" width="11" height="5" fill="#000"/>
<rect x="287" y="238" width="1.5" height="3" fill="#fff"/>
<rect x="290.5" y="238" width="1.8" height="3" fill="#fff"/>
<polygon points="272.5,236.2 277,237.4 283,237.4 283,238.6 286,238.6 286,240.2 283,240.2 283,241.4 277,241.4 272.5,242.6" fill="#000" shape-rendering="geometricPrecision"/>
<rect x="229" y="232" width="44" height="15" rx="2" ry="2" fill="#000" shape-rendering="geometricPrecision"/>
<rect x="231" y="234" width="40" height="10.5" fill="#fff"/>
<text x="231.275" y="243" font-size="11.3" textLength="39.7" lengthAdjust="spacingAndGlyphs" filter="url(#bw)">IDERDY</text>
<polygon points="270.8,237.4 272.5,237.4 278,239.4 272.5,241.4 270.8,241.4" fill="#fff" shape-rendering="geometricPrecision"/>
<rect x="24" y="252" width="21" height="6" fill="#000"/>
<rect x="26" y="254" width="2" height="2" fill="#fff"/>
<rect x="29" y="253" width="1.2" height="4" fill="#fff"/>
<rect x="33" y="253" width="1.2" height="4" fill="#fff"/>
<rect x="38" y="253" width="1.2" height="4" fill="#fff"/>
<rect x="43" y="253" width="1.2" height="4" fill="#fff"/>
<rect x="24" y="259" width="21" height="6" fill="#000"/>
<rect x="29" y="260" width="1.2" height="4" fill="#fff"/>
<rect x="33" y="260" width="1.2" height="4" fill="#fff"/>
<rect x="38" y="260" width="1.2" height="4" fill="#fff"/>
<rect x="43" y="260" width="1.2" height="4" fill="#fff"/>
<polyline points="51.5,247 45.5,255.5" fill="none" stroke="#000" stroke-width="2.2" shape-rendering="geometricPrecision"/>
<polygon points="55.5,257.2 52,259.1 45,259.1 45,262.1 52,262.1 55.5,264" fill="#000" shape-rendering="geometricPrecision"/>
<rect x="50" y="235" width="34" height="14.5" rx="2" ry="2" fill="#000" shape-rendering="geometricPrecision"/>
<rect x="52" y="237" width="29.5" height="10.5" fill="#fff"/>
<text x="52.65" y="246" font-size="11.3" textLength="28.65" lengthAdjust="spacingAndGlyphs" filter="url(#bw)">SPKR</text>
<rect x="55" y="253" width="34" height="15" rx="2" ry="2" fill="#000" shape-rendering="geometricPrecision"/>
<rect x="57" y="255" width="30" height="10.5" fill="#fff"/>
<text x="58.275" y="264" font-size="11.3" textLength="26.325" lengthAdjust="spacingAndGlyphs" filter="url(#bw)">BATT</text>
<polygon points="57.2,258.4 55.5,258.4 51,260.6 55.5,262.8 57.2,262.8" fill="#fff" shape-rendering="geometricPrecision"/>
<rect x="12" y="303" width="11" height="25" fill="#000"/>
<rect x="17" y="304" width="1" height="23" fill="#fff"/>
<rect x="21" y="304" width="1" height="23" fill="#fff"/>
<rect x="14" y="305" width="8" height="1" fill="#fff"/>
<rect x="14" y="308" width="8" height="1" fill="#fff"/>
<rect x="14" y="313" width="8" height="1" fill="#fff"/>
<rect x="14" y="317" width="8" height="1" fill="#fff"/>
<rect x="14" y="322" width="8" height="1" fill="#fff"/>
<rect x="14" y="326" width="8" height="1" fill="#fff"/>
<polygon points="33.5,306.6 29,308.5 23,308.5 23,311.5 29,311.5 33.5,313.4" fill="#000" shape-rendering="geometricPrecision"/>
<rect x="33" y="303" width="40" height="15" rx="3" ry="3" fill="#000" shape-rendering="geometricPrecision"/>
<rect x="35" y="305" width="36" height="11" fill="#fff"/>
<text x="35.4" y="314" font-size="11.3" textLength="34.375" lengthAdjust="spacingAndGlyphs" filter="url(#bw)">PANEL</text>
<polygon points="35.2,307.8 33.5,307.8 28,310 33.5,312.2 35.2,312.2" fill="#fff" shape-rendering="geometricPrecision"/>
<rect x="26" y="320" width="223" height="12" fill="#000"/>
<rect x="27" y="321" width="6" height="1" fill="#fff"/>
<rect x="27" y="323" width="6" height="4" fill="#fff"/>
<rect x="27" y="328" width="6" height="3" fill="#fff"/>
<rect x="36" y="321" width="10" height="1" fill="#fff"/>
<rect x="44" y="322" width="1" height="9" fill="#fff"/>
<rect x="36" y="323" width="7" height="8" fill="#fff"/>
<rect x="43" y="329" width="1" height="2" fill="#fff"/>
<rect x="37" y="326" width="5" height="1" fill="#000"/>
<rect x="37" y="327" width="1" height="2" fill="#000"/>
<rect x="41" y="327" width="1" height="4" fill="#000"/>
<rect x="243" y="321" width="5" height="1" fill="#fff"/>
<rect x="243" y="323" width="5" height="4" fill="#fff"/>
<rect x="243" y="328" width="5" height="3" fill="#fff"/>
<rect x="229" y="321" width="11" height="1" fill="#fff"/>
<rect x="230" y="322" width="1" height="9" fill="#fff"/>
<rect x="232" y="323" width="7" height="8" fill="#fff"/>
<rect x="231" y="329" width="1" height="2" fill="#fff"/>
<rect x="233" y="326" width="5" height="1" fill="#000"/>
<rect x="237" y="327" width="1" height="2" fill="#000"/>
<rect x="233" y="327" width="1" height="4" fill="#000"/>
<rect x="47" y="323" width="1" height="3" fill="#fff"/>
<rect x="49" y="323" width="1" height="3" fill="#fff"/>
<rect x="56" y="323" width="1" height="3" fill="#fff"/>
<rect x="58" y="323" width="1" height="3" fill="#fff"/>
<rect x="58" y="321.3" width="1" height="0.9" fill="#fff"/>
<rect x="60" y="323" width="1" height="3" fill="#fff"/>
<rect x="60" y="321.3" width="1" height="0.9" fill="#fff"/>
<rect x="62" y="323" width="1" height="3" fill="#fff"/>
<rect x="62" y="321.3" width="1" height="0.9" fill="#fff"/>
<rect x="71" y="323" width="1" height="3" fill="#fff"/>
<rect x="73" y="323" width="1" height="3" fill="#fff"/>
<rect x="73" y="321.3" width="1" height="0.9" fill="#fff"/>
<rect x="75" y="323" width="1" height="3" fill="#fff"/>
<rect x="75" y="321.3" width="1" height="0.9" fill="#fff"/>
<rect x="77" y="323" width="1" height="3" fill="#fff"/>
<rect x="77" y="321.3" width="1" height="0.9" fill="#fff"/>
<rect x="79" y="323" width="1" height="3" fill="#fff"/>
<rect x="79" y="321.3" width="1" height="0.9" fill="#fff"/>
<rect x="86" y="323" width="1" height="3" fill="#fff"/>
<rect x="88" y="323" width="1" height="3" fill="#fff"/>
<rect x="88" y="321.3" width="1" height="0.9" fill="#fff"/>
<rect x="90" y="323" width="1" height="3" fill="#fff"/>
<rect x="90" y="321.3" width="1" height="0.9" fill="#fff"/>
<rect x="92" y="323" width="1" height="3" fill="#fff"/>
<rect x="92" y="321.3" width="1" height="0.9" fill="#fff"/>
<rect x="103" y="323" width="1" height="3" fill="#fff"/>
<rect x="105" y="323" width="1" height="3" fill="#fff"/>
<rect x="105" y="321.3" width="1" height="0.9" fill="#fff"/>
<rect x="107" y="323" width="1" height="3" fill="#fff"/>
<rect x="107" y="321.3" width="1" height="0.9" fill="#fff"/>
<rect x="167" y="323" width="1" height="3" fill="#fff"/>
<rect x="169" y="323" width="1" height="3" fill="#fff"/>
<rect x="169" y="321.3" width="1" height="0.9" fill="#fff"/>
<rect x="171" y="323" width="1" height="3" fill="#fff"/>
<rect x="171" y="321.3" width="1" height="0.9" fill="#fff"/>
<rect x="172" y="323" width="1" height="3" fill="#fff"/>
<rect x="172" y="321.3" width="1" height="0.9" fill="#fff"/>
<rect x="174" y="323" width="1" height="3" fill="#fff"/>
<rect x="174" y="321.3" width="1" height="0.9" fill="#fff"/>
<rect x="176" y="323" width="1" height="3" fill="#fff"/>
<rect x="176" y="321.3" width="1" height="0.9" fill="#fff"/>
<rect x="182" y="323" width="1" height="3" fill="#fff"/>
<rect x="184" y="323" width="1" height="3" fill="#fff"/>
<rect x="184" y="321.3" width="1" height="0.9" fill="#fff"/>
<rect x="186" y="323" width="1" height="3" fill="#fff"/>
<rect x="186" y="321.3" width="1" height="0.9" fill="#fff"/>
<rect x="188" y="323" width="1" height="3" fill="#fff"/>
<rect x="188" y="321.3" width="1" height="0.9" fill="#fff"/>
<rect x="201" y="323" width="1" height="3" fill="#fff"/>
<rect x="203" y="323" width="1" height="3" fill="#fff"/>
<rect x="214" y="323" width="1" height="3" fill="#fff"/>
<rect x="216" y="323" width="1" height="3" fill="#fff"/>
<rect x="216" y="321.3" width="1" height="0.9" fill="#fff"/>
<rect x="218" y="323" width="1" height="3" fill="#fff"/>
<rect x="218" y="321.3" width="1" height="0.9" fill="#fff"/>
<rect x="220" y="323" width="1" height="3" fill="#fff"/>
<rect x="220" y="321.3" width="1" height="0.9" fill="#fff"/>
<rect x="225" y="323" width="1" height="3" fill="#fff"/>
<rect x="227" y="323" width="1" height="3" fill="#fff"/>
<rect x="26" y="333" width="223" height="13" fill="#000"/>
<rect x="27" y="334" width="6" height="1" fill="#fff"/>
<rect x="27" y="336" width="6" height="4" fill="#fff"/>
<rect x="27" y="341" width="6" height="3" fill="#fff"/>
<rect x="36" y="334" width="10" height="1" fill="#fff"/>
<rect x="44" y="335" width="1" height="9" fill="#fff"/>
<rect x="36" y="336" width="7" height="8" fill="#fff"/>
<rect x="43" y="342" width="1" height="2" fill="#fff"/>
<rect x="37" y="339" width="5" height="1" fill="#000"/>
<rect x="37" y="340" width="1" height="2" fill="#000"/>
<rect x="41" y="340" width="1" height="4" fill="#000"/>
<rect x="243" y="334" width="5" height="1" fill="#fff"/>
<rect x="243" y="336" width="5" height="4" fill="#fff"/>
<rect x="243" y="341" width="5" height="3" fill="#fff"/>
<rect x="229" y="334" width="11" height="1" fill="#fff"/>
<rect x="230" y="335" width="1" height="9" fill="#fff"/>
<rect x="232" y="336" width="7" height="8" fill="#fff"/>
<rect x="231" y="342" width="1" height="2" fill="#fff"/>
<rect x="233" y="339" width="5" height="1" fill="#000"/>
<rect x="237" y="340" width="1" height="2" fill="#000"/>
<rect x="233" y="340" width="1" height="4" fill="#000"/>
<rect x="45" y="344" width="69" height="1" fill="#fff"/>
<rect x="161" y="344" width="69" height="1" fill="#fff"/>
<rect x="47" y="336" width="1" height="3" fill="#fff"/>
<rect x="49" y="336" width="1" height="3" fill="#fff"/>
<rect x="56" y="336" width="1" height="3" fill="#fff"/>
<rect x="58" y="336" width="1" height="3" fill="#fff"/>
<rect x="58" y="334.3" width="1" height="0.9" fill="#fff"/>
<rect x="60" y="336" width="1" height="3" fill="#fff"/>
<rect x="60" y="334.3" width="1" height="0.9" fill="#fff"/>
<rect x="62" y="336" width="1" height="3" fill="#fff"/>
<rect x="62" y="334.3" width="1" height="0.9" fill="#fff"/>
<rect x="71" y="336" width="1" height="3" fill="#fff"/>
<rect x="73" y="336" width="1" height="3" fill="#fff"/>
<rect x="73" y="334.3" width="1" height="0.9" fill="#fff"/>
<rect x="75" y="336" width="1" height="3" fill="#fff"/>
<rect x="75" y="334.3" width="1" height="0.9" fill="#fff"/>
<rect x="77" y="336" width="1" height="3" fill="#fff"/>
<rect x="77" y="334.3" width="1" height="0.9" fill="#fff"/>
<rect x="79" y="336" width="1" height="3" fill="#fff"/>
<rect x="79" y="334.3" width="1" height="0.9" fill="#fff"/>
<rect x="86" y="336" width="1" height="3" fill="#fff"/>
<rect x="88" y="336" width="1" height="3" fill="#fff"/>
<rect x="88" y="334.3" width="1" height="0.9" fill="#fff"/>
<rect x="90" y="336" width="1" height="3" fill="#fff"/>
<rect x="90" y="334.3" width="1" height="0.9" fill="#fff"/>
<rect x="92" y="336" width="1" height="3" fill="#fff"/>
<rect x="92" y="334.3" width="1" height="0.9" fill="#fff"/>
<rect x="103" y="336" width="1" height="3" fill="#fff"/>
<rect x="105" y="336" width="1" height="3" fill="#fff"/>
<rect x="105" y="334.3" width="1" height="0.9" fill="#fff"/>
<rect x="107" y="336" width="1" height="3" fill="#fff"/>
<rect x="107" y="334.3" width="1" height="0.9" fill="#fff"/>
<rect x="167" y="336" width="1" height="3" fill="#fff"/>
<rect x="169" y="336" width="1" height="3" fill="#fff"/>
<rect x="169" y="334.3" width="1" height="0.9" fill="#fff"/>
<rect x="171" y="336" width="1" height="3" fill="#fff"/>
<rect x="171" y="334.3" width="1" height="0.9" fill="#fff"/>
<rect x="172" y="336" width="1" height="3" fill="#fff"/>
<rect x="172" y="334.3" width="1" height="0.9" fill="#fff"/>
<rect x="174" y="336" width="1" height="3" fill="#fff"/>
<rect x="174" y="334.3" width="1" height="0.9" fill="#fff"/>
<rect x="176" y="336" width="1" height="3" fill="#fff"/>
<rect x="176" y="334.3" width="1" height="0.9" fill="#fff"/>
<rect x="182" y="336" width="1" height="3" fill="#fff"/>
<rect x="184" y="336" width="1" height="3" fill="#fff"/>
<rect x="184" y="334.3" width="1" height="0.9" fill="#fff"/>
<rect x="186" y="336" width="1" height="3" fill="#fff"/>
<rect x="186" y="334.3" width="1" height="0.9" fill="#fff"/>
<rect x="188" y="336" width="1" height="3" fill="#fff"/>
<rect x="188" y="334.3" width="1" height="0.9" fill="#fff"/>
<rect x="201" y="336" width="1" height="3" fill="#fff"/>
<rect x="203" y="336" width="1" height="3" fill="#fff"/>
<rect x="214" y="336" width="1" height="3" fill="#fff"/>
<rect x="216" y="336" width="1" height="3" fill="#fff"/>
<rect x="216" y="334.3" width="1" height="0.9" fill="#fff"/>
<rect x="218" y="336" width="1" height="3" fill="#fff"/>
<rect x="218" y="334.3" width="1" height="0.9" fill="#fff"/>
<rect x="220" y="336" width="1" height="3" fill="#fff"/>
<rect x="220" y="334.3" width="1" height="0.9" fill="#fff"/>
<rect x="225" y="336" width="1" height="3" fill="#fff"/>
<rect x="227" y="336" width="1" height="3" fill="#fff"/>
<rect x="114" y="318" width="47" height="15" rx="2" ry="2" fill="#000" shape-rendering="geometricPrecision"/>
<rect x="116" y="320" width="44" height="11" fill="#fff"/>
<text x="117.975" y="330" font-size="11.3" word-spacing="2.5" textLength="38.55" lengthAdjust="spacingAndGlyphs" filter="url(#bw)">BANK 1</text>
<rect x="114" y="331" width="47" height="16" rx="2" ry="2" fill="#000" shape-rendering="geometricPrecision"/>
<rect x="116" y="333" width="44" height="12.3" fill="#fff"/>
<text x="117.025" y="343" font-size="11.3" word-spacing="2.5" textLength="39.375" lengthAdjust="spacingAndGlyphs" filter="url(#bw)">BANK 0</text>
<rect x="254" y="277" width="10" height="81" fill="#000"/>
<rect x="258" y="278" width="1" height="79" fill="#fff"/>
<rect x="255" y="278" width="8" height="1" fill="#fff"/>
<rect x="255" y="283" width="8" height="1" fill="#fff"/>
<rect x="255" y="288" width="8" height="1" fill="#fff"/>
<rect x="255" y="292" width="8" height="1" fill="#fff"/>
<rect x="255" y="297" width="8" height="1" fill="#fff"/>
<rect x="255" y="302" width="8" height="1" fill="#fff"/>
<rect x="255" y="306" width="8" height="1" fill="#fff"/>
<rect x="255" y="311" width="8" height="1" fill="#fff"/>
<rect x="255" y="315" width="8" height="1" fill="#fff"/>
<rect x="255" y="320" width="8" height="1" fill="#fff"/>
<rect x="255" y="325" width="8" height="1" fill="#fff"/>
<rect x="255" y="329" width="8" height="1" fill="#fff"/>
<rect x="255" y="334" width="8" height="1" fill="#fff"/>
<rect x="255" y="338" width="8" height="1" fill="#fff"/>
<rect x="255" y="343" width="8" height="1" fill="#fff"/>
<rect x="255" y="348" width="8" height="1" fill="#fff"/>
<rect x="255" y="352" width="8" height="1" fill="#fff"/>
<rect x="268" y="263" width="11" height="95" fill="#000"/>
<rect x="269" y="264" width="1" height="93" fill="#fff"/>
<rect x="273" y="264" width="1" height="93" fill="#fff"/>
<rect x="269" y="264" width="9" height="1" fill="#fff"/>
<rect x="269" y="269" width="9" height="1" fill="#fff"/>
<rect x="269" y="273" width="9" height="1" fill="#fff"/>
<rect x="269" y="278" width="9" height="1" fill="#fff"/>
<rect x="269" y="283" width="9" height="1" fill="#fff"/>
<rect x="269" y="287" width="9" height="1" fill="#fff"/>
<rect x="269" y="292" width="9" height="1" fill="#fff"/>
<rect x="269" y="297" width="9" height="1" fill="#fff"/>
<rect x="269" y="302" width="9" height="1" fill="#fff"/>
<rect x="269" y="306" width="9" height="1" fill="#fff"/>
<rect x="269" y="311" width="9" height="1" fill="#fff"/>
<rect x="269" y="316" width="9" height="1" fill="#fff"/>
<rect x="269" y="320" width="9" height="1" fill="#fff"/>
<rect x="269" y="325" width="9" height="1" fill="#fff"/>
<rect x="269" y="330" width="9" height="1" fill="#fff"/>
<rect x="269" y="334" width="9" height="1" fill="#fff"/>
<rect x="269" y="339" width="9" height="1" fill="#fff"/>
<rect x="269" y="344" width="9" height="1" fill="#fff"/>
<rect x="269" y="349" width="9" height="1" fill="#fff"/>
<rect x="269" y="353" width="9" height="1" fill="#fff"/>
<polygon points="241.5,295.6 246,297.4 251,297.4 251,297.8 254,297.8 254,299 251,299 251,299.4 246,299.4 241.5,301.2" fill="#000" shape-rendering="geometricPrecision"/>
<rect x="213" y="291" width="29" height="15" rx="2" ry="2" fill="#000" shape-rendering="geometricPrecision"/>
<rect x="215" y="293" width="25" height="10.5" fill="#fff"/>
<text x="216.35" y="301" font-size="11.3" textLength="21.15" lengthAdjust="spacingAndGlyphs" filter="url(#bw)">CN8</text>
<polygon points="239.8,296.8 241.5,296.8 247,298.4 241.5,300 239.8,300" fill="#fff" shape-rendering="geometricPrecision"/>
<polygon points="290.5,324.6 286,326.5 279,326.5 279,329.5 286,329.5 290.5,331.4" fill="#000" shape-rendering="geometricPrecision"/>
<rect x="290" y="321" width="29" height="15" rx="2" ry="2" fill="#000" shape-rendering="geometricPrecision"/>
<rect x="292" y="323" width="25" height="10.5" fill="#fff"/>
<text x="293.225" y="331" font-size="11.3" textLength="23.5" lengthAdjust="spacingAndGlyphs" filter="url(#bw)">CN7</text>
<polygon points="292.2,325.8 290.5,325.8 285,328 290.5,330.2 292.2,330.2" fill="#fff" shape-rendering="geometricPrecision"/>
<circle cx="318" cy="278.3" r="18.7" fill="#fff" stroke="#000" stroke-width="1.25" shape-rendering="geometricPrecision"/>
<rect x="312" y="248" width="13" height="13" fill="#000"/>
<polygon points="315.5,248.5 320.5,248.5 320.5,286 318,290.5 315.5,286" fill="#fff" stroke="#000" stroke-width="1" shape-rendering="geometricPrecision"/>
<rect x="315" y="249" width="1" height="37" fill="#000"/>
<rect x="320" y="249" width="1" height="37" fill="#000"/>
<rect x="358" y="263" width="6" height="15" fill="#000"/>
<rect x="359.5" y="273.5" width="2.8" height="2.5" fill="#fff"/>
<rect x="358" y="271" width="1" height="1" fill="#fff"/>
<polygon points="378.5,266.3 373,268 364,268 364,271.4 373,271.4 378.5,273.1" fill="#000" shape-rendering="geometricPrecision"/>
<rect x="378" y="262" width="44" height="15" rx="2" ry="2" fill="#000" shape-rendering="geometricPrecision"/>
<rect x="380" y="264" width="40" height="10.7" fill="#fff"/>
<text x="380.275" y="273" font-size="11.3" textLength="38.275" lengthAdjust="spacingAndGlyphs" filter="url(#bw)">IDEIRQ</text>
<polygon points="380.2,267.5 378.5,267.5 372,269.7 378.5,271.9 380.2,271.9" fill="#fff" shape-rendering="geometricPrecision"/>
<rect x="355" y="364" width="90" height="20" fill="#000"/>
<rect x="356" y="365" width="88" height="18" fill="#fff"/>
<rect x="355" y="376" width="1" height="2" fill="#fff"/>
<rect x="355" y="380" width="1" height="1" fill="#fff"/>
<rect x="443" y="375" width="2" height="8" fill="#000"/>
<rect x="443" y="377" width="1" height="1" fill="#fff"/>
<rect x="443" y="380" width="1" height="1" fill="#fff"/>
<rect x="356" y="370" width="88" height="1" fill="#000"/>
<rect x="357" y="367" width="6" height="3" fill="#000"/>
<rect x="358" y="368" width="4" height="1" fill="#fff"/>
<rect x="357" y="373" width="6" height="2" fill="#000"/>
<rect x="364" y="367" width="7" height="3" fill="#000"/>
<rect x="365" y="368" width="5" height="1" fill="#fff"/>
<rect x="364" y="373" width="7" height="2" fill="#000"/>
<rect x="372" y="367" width="6" height="3" fill="#000"/>
<rect x="373" y="368" width="4" height="1" fill="#fff"/>
<rect x="372" y="373" width="6" height="2" fill="#000"/>
<rect x="379" y="367" width="6" height="3" fill="#000"/>
<rect x="380" y="368" width="4" height="1" fill="#fff"/>
<rect x="379" y="373" width="6" height="2" fill="#000"/>
<rect x="386" y="367" width="7" height="3" fill="#000"/>
<rect x="387" y="368" width="5" height="1" fill="#fff"/>
<rect x="386" y="373" width="7" height="2" fill="#000"/>
<rect x="394" y="367" width="6" height="3" fill="#000"/>
<rect x="395" y="368" width="4" height="1" fill="#fff"/>
<rect x="394" y="373" width="6" height="2" fill="#000"/>
<rect x="401" y="367" width="6" height="3" fill="#000"/>
<rect x="402" y="368" width="4" height="1" fill="#fff"/>
<rect x="401" y="373" width="6" height="2" fill="#000"/>
<rect x="409" y="367" width="6" height="3" fill="#000"/>
<rect x="410" y="368" width="4" height="1" fill="#fff"/>
<rect x="409" y="373" width="6" height="2" fill="#000"/>
<rect x="416" y="367" width="6" height="3" fill="#000"/>
<rect x="417" y="368" width="4" height="1" fill="#fff"/>
<rect x="416" y="373" width="6" height="2" fill="#000"/>
<rect x="423" y="367" width="6" height="3" fill="#000"/>
<rect x="424" y="368" width="4" height="1" fill="#fff"/>
<rect x="423" y="373" width="6" height="2" fill="#000"/>
<rect x="431" y="367" width="6" height="3" fill="#000"/>
<rect x="432" y="368" width="4" height="1" fill="#fff"/>
<rect x="431" y="373" width="6" height="2" fill="#000"/>
<rect x="438" y="367" width="6" height="3" fill="#000"/>
<rect x="439" y="368" width="4" height="1" fill="#fff"/>
<rect x="438" y="373" width="6" height="2" fill="#000"/>
<rect x="360" y="375" width="6" height="7" fill="#000"/>
<rect x="361" y="376" width="4" height="5" fill="#fff"/>
<rect x="368" y="375" width="6" height="7" fill="#000"/>
<rect x="369" y="376" width="4" height="5" fill="#fff"/>
<rect x="375" y="375" width="6" height="7" fill="#000"/>
<rect x="376" y="376" width="4" height="5" fill="#fff"/>
<rect x="383" y="375" width="6" height="7" fill="#000"/>
<rect x="384" y="376" width="4" height="5" fill="#fff"/>
<rect x="390" y="375" width="6" height="7" fill="#000"/>
<rect x="391" y="376" width="4" height="5" fill="#fff"/>
<rect x="398" y="375" width="6" height="7" fill="#000"/>
<rect x="399" y="376" width="4" height="5" fill="#fff"/>
<rect x="405" y="375" width="6" height="7" fill="#000"/>
<rect x="406" y="376" width="4" height="5" fill="#fff"/>
<rect x="412" y="375" width="6" height="7" fill="#000"/>
<rect x="413" y="376" width="4" height="5" fill="#fff"/>
<rect x="420" y="375" width="6" height="7" fill="#000"/>
<rect x="421" y="376" width="4" height="5" fill="#fff"/>
<rect x="427" y="375" width="6" height="7" fill="#000"/>
<rect x="428" y="376" width="4" height="5" fill="#fff"/>
<rect x="435" y="375" width="6" height="7" fill="#000"/>
<rect x="436" y="376" width="4" height="5" fill="#fff"/>
<rect x="176" y="374" width="20" height="11" fill="#000"/>
<rect x="177.2" y="379" width="3.3" height="1" fill="#fff"/>
<rect x="182.1" y="379" width="3.3" height="1" fill="#fff"/>
<rect x="187" y="379" width="2.8" height="1" fill="#fff"/>
<rect x="191.3" y="379" width="3.3" height="1" fill="#fff"/>
<polygon points="164.5,375.9 168,377.6 176,377.6 176,381 168,381 164.5,382.7" fill="#000" shape-rendering="geometricPrecision"/>
<rect x="126" y="372" width="39" height="15" rx="2" ry="2" fill="#000" shape-rendering="geometricPrecision"/>
<rect x="128" y="374" width="35.3" height="10.6" fill="#fff"/>
<text x="128.15" y="383" font-size="11.3" textLength="35.325" lengthAdjust="spacingAndGlyphs" filter="url(#bw)">SPEED</text>
<polygon points="162.8,377.1 164.5,377.1 169,379.3 164.5,381.5 162.8,381.5" fill="#fff" shape-rendering="geometricPrecision"/>
<polygon points="207.5,376.1 200,378.6 198,378.6 198,378.9 196,378.9 196,380.1 198,380.1 198,380.4 200,380.4 207.5,382.9" fill="#000" shape-rendering="geometricPrecision"/>
<rect x="207" y="372" width="29" height="15" rx="2" ry="2" fill="#000" shape-rendering="geometricPrecision"/>
<rect x="209" y="374" width="25" height="10.6" fill="#fff"/>
<text x="210.475" y="383" font-size="11.3" textLength="22.45" lengthAdjust="spacingAndGlyphs" filter="url(#bw)">CDR</text>
<polygon points="209.2,377.3 207.5,377.3 199,379.5 207.5,381.7 209.2,381.7" fill="#fff" shape-rendering="geometricPrecision"/>
<polygon points="183,385 186.5,385 180,393 176.5,393" fill="#000"/>
<polygon points="188,385 190.5,385 197,392 194,392" fill="#000"/>
<rect x="146" y="391" width="33" height="15" rx="2" ry="2" fill="#000" shape-rendering="geometricPrecision"/>
<rect x="148.4" y="393" width="29.6" height="10.3" fill="#fff"/>
<text x="148.85" y="402" font-size="11.3" textLength="29.05" lengthAdjust="spacingAndGlyphs" filter="url(#bw)">EVGA</text>
<rect x="194" y="390" width="34" height="15" rx="2" ry="2" fill="#000" shape-rendering="geometricPrecision"/>
<rect x="196" y="392" width="30" height="10.6" fill="#fff"/>
<text x="195.375" y="401" font-size="11.3" textLength="31.15" lengthAdjust="spacingAndGlyphs" filter="url(#bw)">EPWD</text>
<text x="415.5" y="92" font-size="9.6" textLength="29.175" lengthAdjust="spacingAndGlyphs" filter="url(#bw)">M8432</text>
</svg>
</body>
</html>
